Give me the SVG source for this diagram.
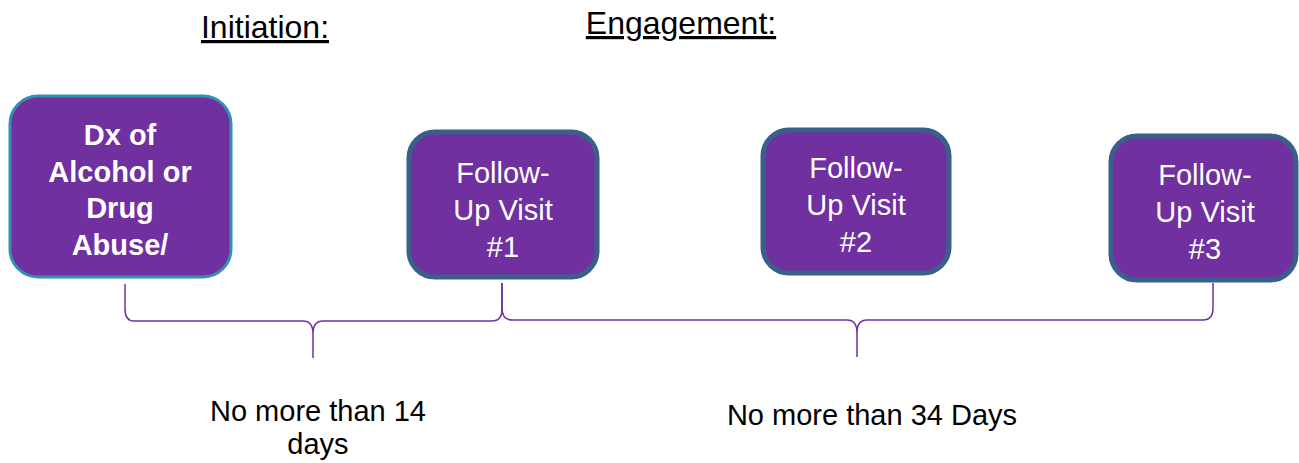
<svg xmlns="http://www.w3.org/2000/svg" width="1299" height="463" viewBox="0 0 1299 463">
<style>
.box{fill:#7030A0;stroke:#3B5F8B;stroke-width:5}
.box1{fill:#7030A0;stroke:#3191AE;stroke-width:3}
.bt{font-family:"Liberation Sans",Arial,sans-serif;font-size:29px;fill:#FFFFFF;text-anchor:middle}
.bb{font-weight:bold}
.hd{font-family:"Liberation Sans",Arial,sans-serif;font-size:32px;fill:#000;text-anchor:middle;text-decoration:underline}
.lb{font-family:"Liberation Sans",Arial,sans-serif;font-size:29px;fill:#000;text-anchor:middle}
.br{fill:none;stroke:#7030A0;stroke-width:1.5}
</style>
<rect width="1299" height="463" fill="#FFFFFF"/>
<g id="header-initiation"><text class="hd" x="265" y="38">Initiation:</text></g>
<g id="header-engagement"><text class="hd" x="681" y="34">Engagement:</text></g>
<g id="node-dx">
<rect class="box1" x="10" y="96" width="221" height="181" rx="28"/>
<text class="bt bb" x="120" y="145">Dx of</text>
<text class="bt bb" x="120" y="182">Alcohol or</text>
<text class="bt bb" x="120" y="218">Drug</text>
<text class="bt bb" x="120" y="255">Abuse/</text>
</g>
<g id="node-visit1">
<rect class="box" x="409" y="132" width="188" height="145" rx="26"/>
<text class="bt" x="503" y="183">Follow-</text>
<text class="bt" x="503" y="220">Up Visit</text>
<text class="bt" x="503" y="257">#1</text>
</g>
<g id="node-visit2">
<rect class="box" x="763" y="130" width="186" height="143" rx="26"/>
<text class="bt" x="856" y="178">Follow-</text>
<text class="bt" x="856" y="215">Up Visit</text>
<text class="bt" x="856" y="252">#2</text>
</g>
<g id="node-visit3">
<rect class="box" x="1111" y="136" width="185" height="144" rx="26"/>
<text class="bt" x="1205" y="185">Follow-</text>
<text class="bt" x="1205" y="222">Up Visit</text>
<text class="bt" x="1205" y="259">#3</text>
</g>
<g id="connectors">
<path class="br" d="M125,284 L125,309 Q125,321 134,321 L303,321 Q313,321 313,334 L313,358 M313,334 Q313,321 323,321 L492,321 Q502,321 502,309 L502,283"/>
<path class="br" d="M502,283 L502,308 Q502,320 512,320 L847,320 Q857,320 857,333 L857,357 M857,333 Q857,320 867,320 L1203,320 Q1213,320 1213,308 L1213,283"/>
</g>
<g id="label-14"><text class="lb" x="318" y="421">No more than 14</text><text class="lb" x="318" y="454">days</text></g>
<g id="label-34"><text class="lb" x="872" y="425">No more than 34 Days</text></g>
</svg>
